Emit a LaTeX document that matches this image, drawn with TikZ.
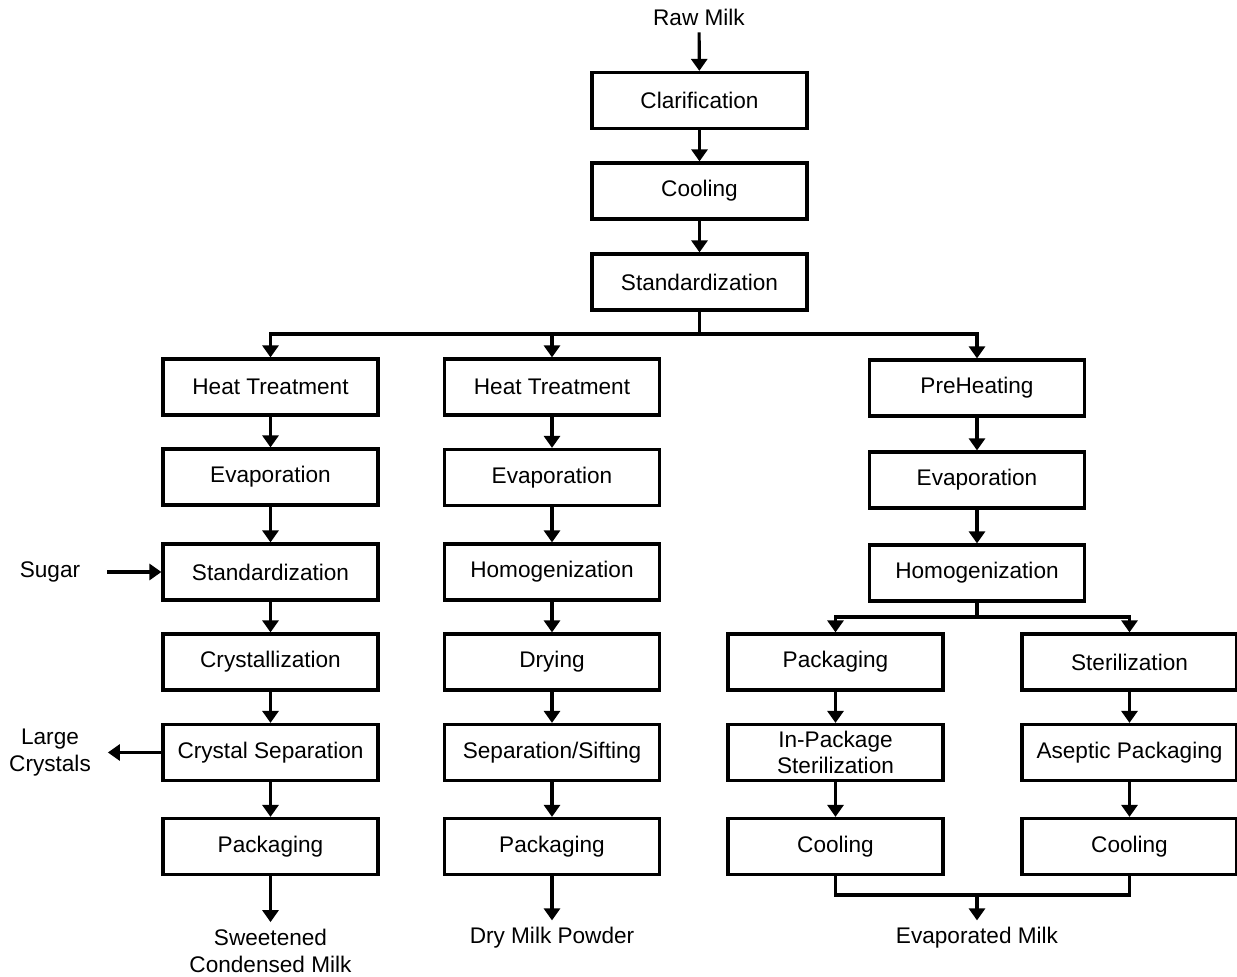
\documentclass[tikz,border=0pt]{standalone}
\usepackage{fontspec}
\setmainfont{Liberation Sans}
\usetikzlibrary{arrows.meta}

\tikzset{
  box/.style = {draw, line width = 1.6pt, minimum width = 107.5pt, minimum height = 28pt, inner sep = 2pt, align = center, font = \fontsize{11.3}{13.2}\selectfont},
  txt/.style = {align = center, font = \fontsize{11.3}{13.5}\selectfont},
  link/.style = {line width = 1.6pt},
  arr/.style = {line width = 1.6pt, -{Triangle[width = 8pt , length = 6pt]}}
}

\begin{document}
\begin{tikzpicture}[x = 0.5pt , y = -0.5pt]
    \useasboundingbox (0,0) rectangle (1237,977);

    % main line
    \node[txt] (raw) at (699,17) {Raw Milk};
    \node[box] (clar) at (699.5,100.5) {Clarification};
    \node[box] (cool) at (699.5,191) {Cooling};
    \node[box] (std) at (699.5,282) {Standardization};

    % sweetened condensed milk
    \node[box] (ht1) at (270.5,387) {Heat Treatment};
    \node[box] (ev1) at (270.5,477) {Evaporation};
    \node[box] (std1) at (270.5,572) {Standardization};
    \node[box] (cry1) at (270.5,662) {Crystallization};
    \node[box] (sep1) at (270.5,752.5) {Crystal Separation};
    \node[box] (pk1) at (270.5,846.5) {Packaging};
    \node[txt] (out1) at (270.5,951) {Sweetened\\Condensed Milk};
    \node[txt] (sugar) at (50,572) {Sugar};
    \node[txt] (large) at (50,752.5) {Large\\Crystals};

    % dry milk powder
    \node[box] (ht2) at (552,387) {Heat Treatment};
    \node[box] (ev2) at (552,477.5) {Evaporation};
    \node[box] (hom2) at (552,572) {Homogenization};
    \node[box] (dry2) at (552,662) {Drying};
    \node[box] (sep2) at (552,752.5) {Separation/Sifting};
    \node[box] (pk2) at (552,846.5) {Packaging};
    \node[txt] (out2) at (552,938) {Dry Milk Powder};

    % evaporated milk
    \node[box] (pre3) at (977,388) {PreHeating};
    \node[box] (ev3) at (977,480) {Evaporation};
    \node[box] (hom3) at (977,573) {Homogenization};
    \node[box] (pk3) at (835.5,662) {Packaging};
    \node[box] (ips3) at (835.5,752.5) {In-Package\\Sterilization};
    \node[box] (cl3a) at (835.5,846.5) {Cooling};
    \node[box] (ster3) at (1129.5,662) {Sterilization};
    \node[box] (asp3) at (1129.5,752.5) {Aseptic Packaging};
    \node[box] (cl3b) at (1129.5,846.5) {Cooling};
    \node[txt] (out3) at (977,938) {Evaporated Milk};

    \coordinate (bus) at (699.5,334);
    \coordinate (bus3) at (977,617);
    \coordinate (mrg) at (977,895);

    \draw[arr] (raw) -- (clar);
    \draw[arr] (clar) -- (cool);
    \draw[arr] (cool) -- (std);
    \draw[link] (std) -- (bus);
    \draw[arr] (bus) -| (ht1);
    \draw[arr] (bus) -| (ht2);
    \draw[arr] (bus) -| (pre3);

    \draw[arr] (ht1) -- (ev1);
    \draw[arr] (ev1) -- (std1);
    \draw[arr] (std1) -- (cry1);
    \draw[arr] (cry1) -- (sep1);
    \draw[arr] (sep1) -- (pk1);
    \draw[arr] (pk1) -- (out1);
    \draw[arr , shorten <= 10pt] (sugar) -- (std1);
    \draw[arr , shorten >= 5pt] (sep1) -- (large.east |- sep1);

    \draw[arr] (ht2) -- (ev2);
    \draw[arr] (ev2) -- (hom2);
    \draw[arr] (hom2) -- (dry2);
    \draw[arr] (dry2) -- (sep2);
    \draw[arr] (sep2) -- (pk2);
    \draw[arr] (pk2) -- (out2);

    \draw[arr] (pre3) -- (ev3);
    \draw[arr] (ev3) -- (hom3);
    \draw[link] (hom3) -- (bus3);
    \draw[arr] (bus3) -| (pk3);
    \draw[arr] (bus3) -| (ster3);
    \draw[arr] (pk3) -- (ips3);
    \draw[arr] (ips3) -- (cl3a);
    \draw[arr] (ster3) -- (asp3);
    \draw[arr] (asp3) -- (cl3b);
    \draw[link] (cl3a) |- (mrg) -| (cl3b);
    \draw[arr] (mrg) -- (out3);
\end{tikzpicture}
\end{document}
